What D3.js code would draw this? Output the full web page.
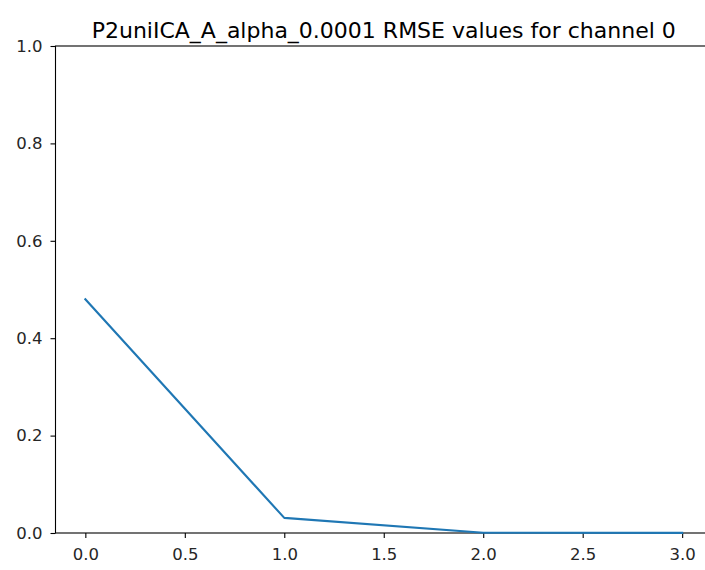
<!DOCTYPE html>
<html>
<head>
<meta charset="utf-8">
<script src="https://cdn.jsdelivr.net/npm/d3@7"></script>
<style>
  html, body { margin: 0; padding: 0; background: #fff; overflow: hidden; }
  svg { display: block; font-family: "DejaVu Sans", sans-serif; }
</style>
</head>
<body>
<svg id="chart" width="705" height="570"></svg>
<script>
// RMSE per iteration for channel 0
const steps = [0, 1, 2, 3];
const rmse = [0.480, 0.031, 0.0006, 0.0002];
const xTicks = [0.0, 0.5, 1.0, 1.5, 2.0, 2.5, 3.0];
const yTicks = [0.0, 0.2, 0.4, 0.6, 0.8, 1.0];
const title = "P2uniICA_A_alpha_0.0001 RMSE values for channel 0";

const svg = d3.select("#chart");
const plotLeft = 55.5, plotRight = 712, plotTop = 46, plotBottom = 533;

const x = d3.scaleLinear().domain([-0.15, 3.15]).range([plotLeft, plotRight]);
const y = d3.scaleLinear().domain([0, 1]).range([plotBottom, plotTop]);

const fmt = d3.format(".1f");

// axes
const xAxis = svg.append("g")
  .attr("transform", `translate(0,${plotBottom})`)
  .call(d3.axisBottom(x).tickValues(xTicks).tickFormat(fmt).tickSizeOuter(0).tickSize(5).tickPadding(10));
const yAxis = svg.append("g")
  .attr("transform", `translate(${plotLeft},0)`)
  .call(d3.axisLeft(y).tickValues(yTicks).tickFormat(fmt).tickSizeOuter(0).tickSize(5).tickPadding(8));

[xAxis, yAxis].forEach(g => {
  g.select(".domain").remove();
  g.selectAll(".tick line").attr("stroke", "#000").attr("stroke-width", 1.1);
  g.selectAll(".tick text").attr("fill", "#262626").style("font-size", "16.5px")
    .style("font-family", "'DejaVu Sans', sans-serif");
});

// spines
const spine = svg.append("g").attr("fill", "none").attr("stroke", "#000").attr("stroke-width", 1.1);
spine.append("rect").attr("x", plotLeft).attr("y", plotTop)
  .attr("width", plotRight - plotLeft).attr("height", plotBottom - plotTop);

// data line
svg.append("path")
  .datum(steps.map((s, i) => [s, rmse[i]]))
  .attr("fill", "none")
  .attr("stroke", "#1f77b4")
  .attr("stroke-width", 2.1)
  .attr("stroke-linejoin", "round")
  .attr("stroke-linecap", "square")
  .attr("d", d3.line().x(d => x(d[0])).y(d => y(d[1])));

// title
svg.append("text")
  .attr("x", (plotLeft + plotRight) / 2)
  .attr("y", 38)
  .attr("text-anchor", "middle")
  .attr("fill", "#000")
  .style("font-size", "22px")
  .text(title);
</script>
</body>
</html>
